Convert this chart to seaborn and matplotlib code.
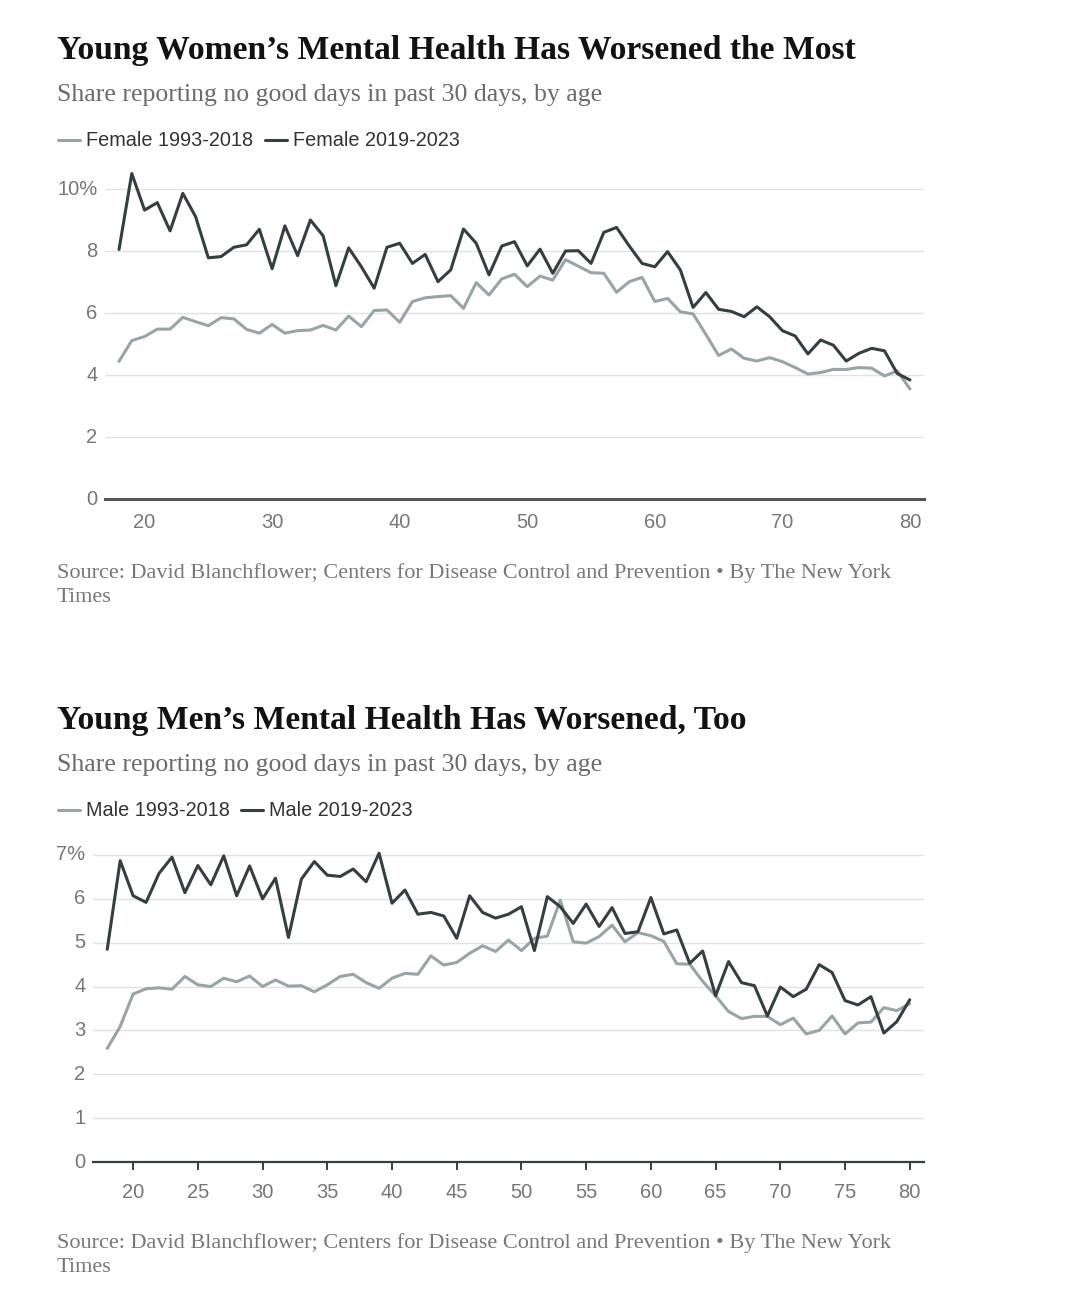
import pandas as pd
import matplotlib.pyplot as plt
import seaborn as sns
from matplotlib.lines import Line2D

ages = list(range(18, 81))

female_old = [4.44, 5.11, 5.24, 5.48, 5.48, 5.86, 5.72, 5.59, 5.85, 5.81,
              5.47, 5.35, 5.63, 5.35, 5.43, 5.45, 5.60, 5.45, 5.90, 5.56,
              6.08, 6.10, 5.70, 6.37, 6.49, 6.53, 6.56, 6.15, 6.98, 6.58,
              7.10, 7.25, 6.85, 7.19, 7.06, 7.72, 7.51, 7.30, 7.28, 6.67,
              7.01, 7.15, 6.37, 6.47, 6.04, 5.97, 5.31, 4.63, 4.84, 4.54,
              4.45, 4.56, 4.43, 4.24, 4.03, 4.08, 4.18, 4.18, 4.24, 4.22,
              3.97, 4.13, 3.55]
female_new = [8.05, 10.5, 9.32, 9.56, 8.65, 9.86, 9.11, 7.78, 7.82, 8.12,
              8.20, 8.70, 7.43, 8.81, 7.85, 9.00, 8.49, 6.88, 8.10, 7.49,
              6.80, 8.12, 8.25, 7.60, 7.89, 7.01, 7.39, 8.71, 8.25, 7.23,
              8.16, 8.30, 7.52, 8.06, 7.28, 8.00, 8.01, 7.60, 8.60, 8.76,
              8.16, 7.60, 7.49, 7.98, 7.39, 6.18, 6.66, 6.12, 6.05, 5.88,
              6.20, 5.88, 5.43, 5.26, 4.68, 5.13, 4.96, 4.45, 4.70, 4.86,
              4.78, 4.05, 3.84]

male_old = [2.59, 3.09, 3.83, 3.95, 3.97, 3.94, 4.23, 4.04, 4.00, 4.19,
            4.11, 4.24, 4.00, 4.15, 4.01, 4.02, 3.88, 4.04, 4.23, 4.28,
            4.09, 3.96, 4.19, 4.30, 4.28, 4.70, 4.49, 4.55, 4.76, 4.93,
            4.80, 5.06, 4.82, 5.10, 5.15, 5.97, 5.02, 4.99, 5.14, 5.40,
            5.02, 5.23, 5.16, 5.03, 4.52, 4.51, 4.12, 3.79, 3.43, 3.27,
            3.32, 3.32, 3.13, 3.28, 2.92, 3.00, 3.33, 2.92, 3.17, 3.19,
            3.52, 3.45, 3.61]
male_new = [4.85, 6.87, 6.07, 5.92, 6.58, 6.95, 6.14, 6.76, 6.32, 6.98,
            6.07, 6.75, 6.00, 6.47, 5.12, 6.45, 6.85, 6.54, 6.51, 6.68,
            6.39, 7.04, 5.90, 6.20, 5.65, 5.69, 5.61, 5.10, 6.07, 5.69,
            5.56, 5.65, 5.82, 4.82, 6.05, 5.82, 5.44, 5.88, 5.37, 5.80,
            5.21, 5.25, 6.03, 5.20, 5.29, 4.53, 4.81, 3.79, 4.57, 4.09,
            4.02, 3.33, 3.99, 3.77, 3.94, 4.50, 4.32, 3.68, 3.58, 3.77,
            2.94, 3.20, 3.70]

light = "#98a4a6"
dark = "#353e41"
grey_text = "#6b6b6b"
sans = "Liberation Sans"
serif = "Liberation Serif"

sns.set_theme(style="white")
plt.rcParams["font.family"] = [sans, "DejaVu Sans"]

W, H = 1070, 1314
fig = plt.figure(figsize=(W / 100, H / 100), dpi=100)


def fy(px):
    return 1 - px / H


def fx(px):
    return px / W


def panel(rect, old, new, labels, ymax, yticks, xticks, top_px, ticks_down):
    ax = fig.add_axes(rect)
    df = pd.DataFrame({
        "age": ages * 2,
        "share": old + new,
        "series": [labels[0]] * len(ages) + [labels[1]] * len(ages),
    })
    sns.lineplot(data=df, x="age", y="share", hue="series",
                 palette=[light, dark], linewidth=2.2, ax=ax, legend=False)
    ax.set_xlim(16.9, 81.1)
    ax.set_ylim(0, ymax)
    ax.set_yticks(yticks)
    ax.set_yticklabels([f"{t}%" if t == yticks[-1] else str(t) for t in yticks])
    ax.set_xticks(xticks)
    ax.set_xlabel("")
    ax.set_ylabel("")
    ax.grid(axis="y", color="#e2e2e2", linewidth=1)
    for s in ["top", "right", "left"]:
        ax.spines[s].set_visible(False)
    ax.spines["bottom"].set_color(dark if ticks_down else "#555555")
    ax.spines["bottom"].set_linewidth(1.6 if ticks_down else 2.2)
    ax.tick_params(axis="y", length=0, pad=5.5, labelsize=14.5, labelcolor="#777777")
    if ticks_down:
        ax.tick_params(axis="x", length=6, width=1.4, color=dark, direction="out",
                       pad=9, labelsize=14.5, labelcolor="#777777", bottom=True)
    else:
        ax.tick_params(axis="x", length=0, pad=10, labelsize=14.5, labelcolor="#777777")
    for lab in ax.get_yticklabels():
        lab.set_verticalalignment("center")

    # title block
    fig.text(fx(57), fy(top_px), labels[2], fontsize=24.2, fontweight="bold",
             family=serif, color="#121212", va="baseline")
    fig.text(fx(57), fy(top_px + 42), "Share reporting no good days in past 30 days, by age",
             fontsize=18.5, family=serif, color=grey_text, va="baseline")
    handles = [Line2D([], [], color=light, linewidth=2.2),
               Line2D([], [], color=dark, linewidth=2.2)]
    fig.legend(handles, labels[:2], loc="center left",
               bbox_to_anchor=(fx(40), fy(top_px + 82)), ncol=2, frameon=False,
               handlelength=1.1, handletextpad=0.3, columnspacing=0.6,
               fontsize=14.3, labelcolor="#333333")
    return ax


panel([fx(105), fy(499), fx(924 - 105), (10.7 * 31) / H],
      female_old, female_new,
      ["Female 1993-2018", "Female 2019-2023",
       "Young Women\u2019s Mental Health Has Worsened the Most"],
      10.7, [0, 2, 4, 6, 8, 10], list(range(20, 81, 10)), 59, False)

panel([fx(93), fy(1162), fx(924 - 93), (7.2 * 43.86) / H],
      male_old, male_new,
      ["Male 1993-2018", "Male 2019-2023",
       "Young Men\u2019s Mental Health Has Worsened, Too"],
      7.2, [0, 1, 2, 3, 4, 5, 6, 7], list(range(20, 81, 5)), 729, True)

source_lines = ["Source: David Blanchflower; Centers for Disease Control and Prevention \u2022 By The New York",
                "Times"]
for base in [578, 1248]:
    for i, line in enumerate(source_lines):
        fig.text(fx(57), fy(base + 24 * i), line, fontsize=16, family=serif,
                 color="#777777", va="baseline")

fig.savefig("out.png", dpi=100, facecolor="white")
